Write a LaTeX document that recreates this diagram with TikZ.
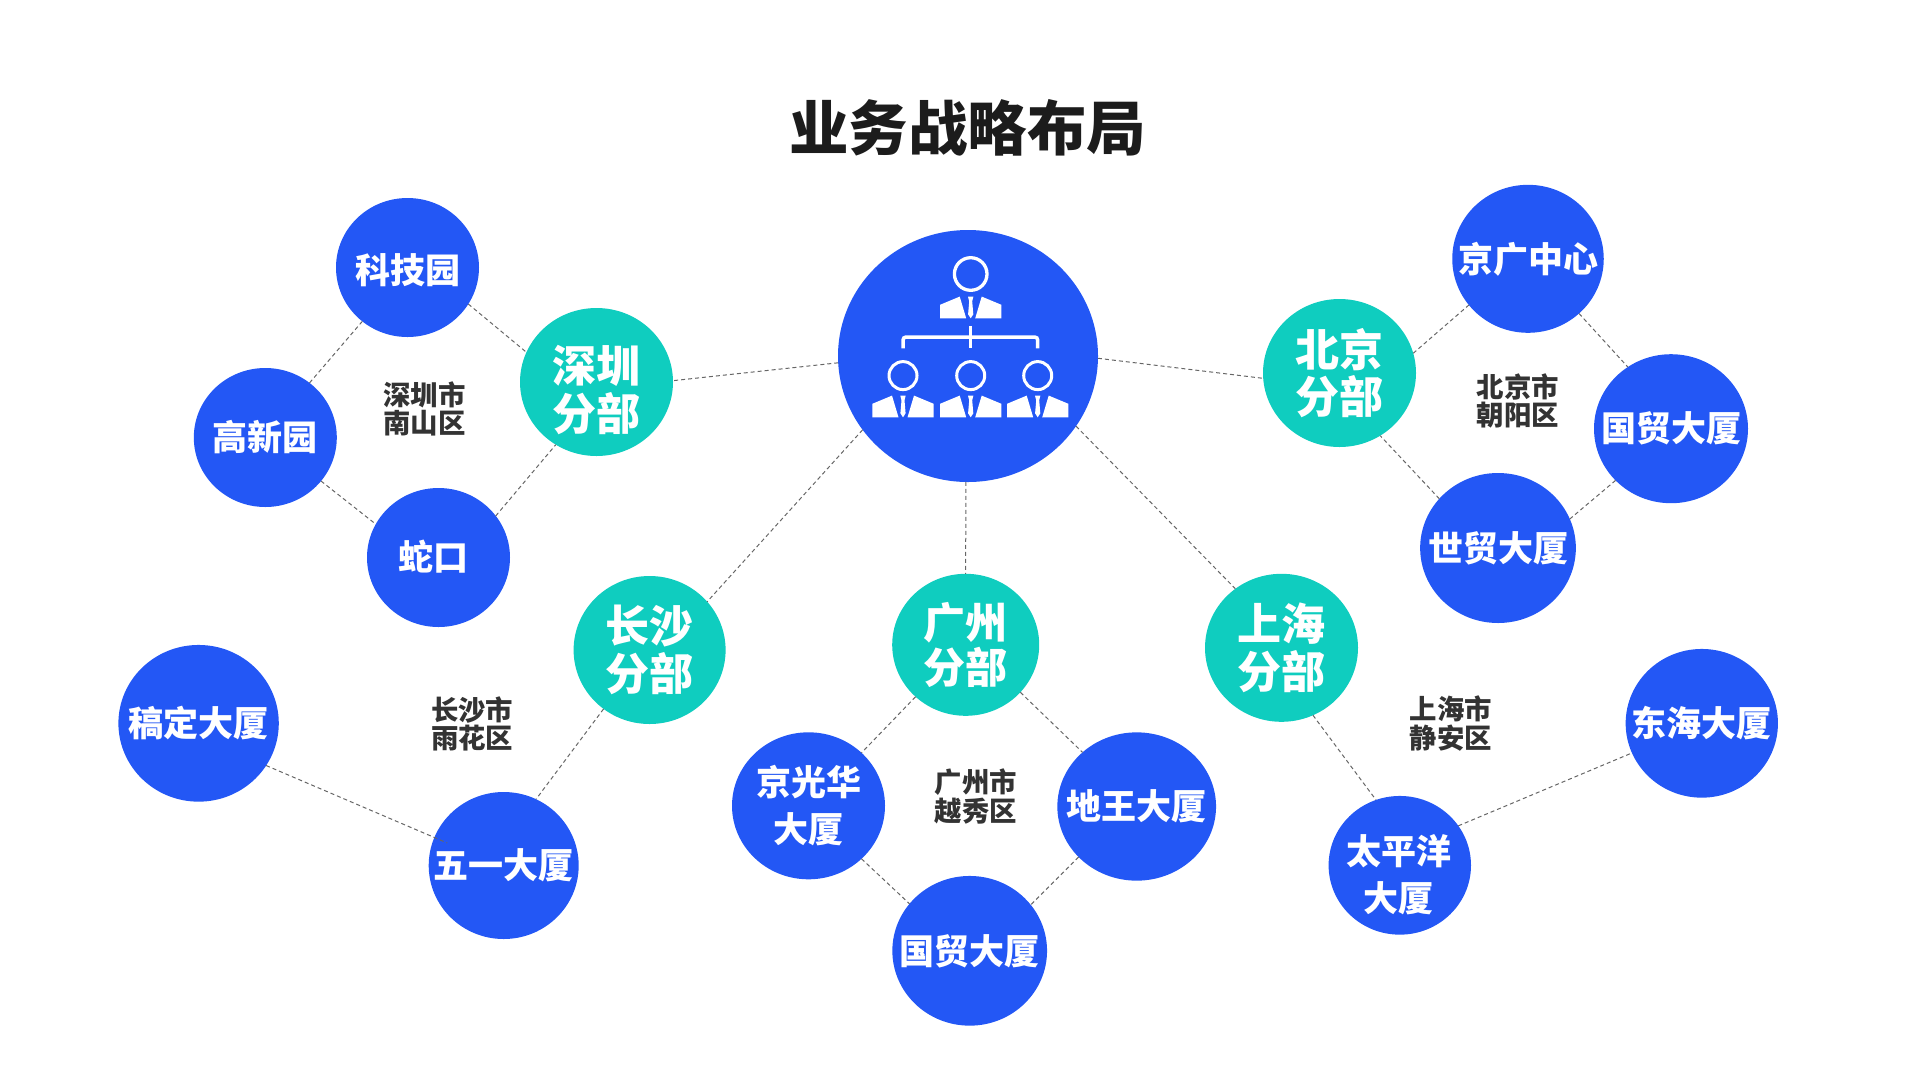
\documentclass[tikz,border=0pt]{standalone}
\usepackage{fontspec}
\setmainfont{Noto Sans CJK SC}
\usetikzlibrary{shapes.geometric}
\definecolor{orbblue}{HTML}{2357F5}
\definecolor{orbteal}{HTML}{0FCDBF}
\definecolor{areatext}{HTML}{333333}
\definecolor{titletext}{HTML}{1C1C1C}
\tikzset{
  orb/.style n args={2}{ellipse, minimum width=#1pt, minimum height=#2pt,
    inner sep=-30pt, outer sep=0pt, text=white, align=center},
  leaf/.style={fill=orbblue, font=\fontsize{35}{47}\selectfont\bfseries},
  branch/.style={fill=orbteal, font=\fontsize{44}{47.5}\selectfont\bfseries},
  leaftext/.style={text=white, align=center, font=\fontsize{35}{47}\selectfont\bfseries},
  branchtext/.style={text=white, align=center, font=\fontsize{44}{47.5}\selectfont\bfseries},
  area/.style={text=areatext, align=center, font=\fontsize{27.4}{28.7}\selectfont\bfseries},
  link/.style={draw=black!60, line width=1pt, dash pattern=on 4pt off 3pt},
  person/.pic={
    \fill[white] (-30.7,0) -- (-30.7,-13.5) -- (-11,-21.7) -- (-4.5,0) -- cycle;
    \fill[white] (30.7,0) -- (30.7,-13.5) -- (11,-21.7) -- (4.5,0) -- cycle;
    \fill[white] (-2.7,-21.7) -- (2.7,-21.7) -- (1.5,-17) -- (2.6,-4) -- (0,0) -- (-2.6,-4) -- (-1.5,-17) -- cycle;
  },
}
\begin{document}
\begin{tikzpicture}[x=1pt,y=-1pt]
  \useasboundingbox (0,0) rectangle (1920,1080);
  \node[text=titletext, font=\fontsize{59.5}{60}\selectfont\bfseries] (title) at (967.5,128) {业务战略布局};

  \node[orb={260}{252}, fill=orbblue] (hub) at (968,356) {};
  \node[orb={153}{148}, branch] (shenzhen) at (596.5,382) {};
  \node[branchtext] (shenzhentext) at (596.5,390) {深圳\\分部};
  \node[orb={153}{148}, branch] (beijing) at (1339.5,373) {北京\\分部};
  \node[orb={152}{148}, branch] (changsha) at (649.6,650) {长沙\\分部};
  \node[orb={147}{142}, branch, font=\fontsize{42}{45}\selectfont\bfseries] (guangzhou) at (965.7,644.8) {广州\\分部};
  \node[orb={153}{148}, branch] (shanghai) at (1281.5,647.8) {上海\\分部};

  % shenzhen
  \node[orb={143}{139}, leaf] (keji) at (407.5,267.5) {};
  \node[leaftext] (kejitext) at (407.5,270) {科技园};
  \node[orb={143}{139}, leaf] (gaoxin) at (265.3,437.5) {高新园};
  \node[orb={143}{139}, leaf] (shekou) at (438.5,557.5) {};
  \node[leaftext] (shekoutext) at (433.5,556.5) {蛇口};
  \node[area] (szarea) at (424.5,409) {深圳市\\南山区};
  % beijing
  \node[orb={151.5}{148}, leaf] (jingguang) at (1528,258.8) {京广中心};
  \node[orb={154}{149}, leaf] (guomaobj) at (1671,428.7) {国贸大厦};
  \node[orb={155.7}{150}, leaf] (shimao) at (1498,548) {世贸大厦};
  \node[area] (bjarea) at (1518,401) {北京市\\朝阳区};
  % changsha
  \node[orb={160.4}{156.7}, leaf] (gaoding) at (198.6,723.3) {稿定大厦};
  \node[orb={150}{147}, leaf] (wuyi) at (503.7,865.5) {五一大厦};
  \node[area] (csarea) at (472.2,723.8) {长沙市\\雨花区};
  % guangzhou
  \node[orb={153}{147}, leaf] (jingguanghua) at (808.5,805.8) {京光华\\大厦};
  \node[orb={158.7}{148.3}, leaf] (diwang) at (1136.7,806.5) {地王大厦};
  \node[orb={154.7}{149.7}, leaf] (guomaogz) at (969.7,950.8) {国贸大厦};
  \node[area] (gzarea) at (975.8,796.3) {广州市\\越秀区};
  % shanghai
  \node[orb={142.4}{138.7}, leaf] (taipingyang) at (1399.8,865.3) {};
  \node[leaftext] (taipingyangtext) at (1398.8,875) {太平洋\\大厦};
  \node[orb={152.3}{148.7}, leaf] (donghai) at (1701.8,723.3) {东海大厦};
  \node[area] (sharea) at (1451,723.8) {上海市\\静安区};

  % links to the hub
  \draw[link] (hub.-177) -- (shenzhen.1.5);
  \draw[link] (hub.-1) -- (beijing.-176);
  \draw[link] (hub.-145.6) -- (changsha.40.3);
  \draw[link] (hub.-91.7) -- (guangzhou.90);
  \draw[link] (hub.-33.5) -- (shanghai.128.8);
  % rings
  \draw[link] (keji.-31.9) -- (shenzhen.157);
  \draw[link] (keji.-130.2) -- (gaoxin.51.7);
  \draw[link] (gaoxin.-38.1) -- (shekou.152.6);
  \draw[link] (shekou.36.8) -- (shenzhen.-123.1);
  \draw[link] (beijing.15.8) -- (jingguang.-142.1);
  \draw[link] (jingguang.-47.2) -- (guomaobj.125.1);
  \draw[link] (guomaobj.-137.2) -- (shimao.22.4);
  \draw[link] (shimao.140.9) -- (beijing.-57);
  \draw[link, shorten >=-14pt] (gaoding.-32.6) -- (wuyi.158.1);
  \draw[link] (changsha.-128.2) -- (wuyi.64);
  \draw[link] (guangzhou.-134.7) -- (jingguanghua.45.9);
  \draw[link] (guangzhou.-41.8) -- (diwang.135.4);
  \draw[link] (jingguanghua.-45.2) -- (guomaogz.142.3);
  \draw[link] (diwang.-139.4) -- (guomaogz.37.4);
  \draw[link] (shanghai.-65.7) -- (taipingyang.110.1);
  \draw[link] (taipingyang.34.6) -- (donghai.-157.7);

  % hub icon
  \pic at (970.7,318.3) {person};
  \draw[white, line width=3.3pt] (970.7,274) circle (16.3);
  \foreach \px in {903,970.7,1037.7}{
    \pic at (\px,417.3) {person};
    \draw[white, line width=3pt] (\px,375.6) circle (14);
  }
  \draw[white, line width=3.5pt, rounded corners=3pt] (903,348.3) -- (903,337) -- (1037.7,337) -- (1037.7,348.3);
  \draw[white, line width=3.5pt] (970.7,326) -- (970.7,348.3);
\end{tikzpicture}
\end{document}
